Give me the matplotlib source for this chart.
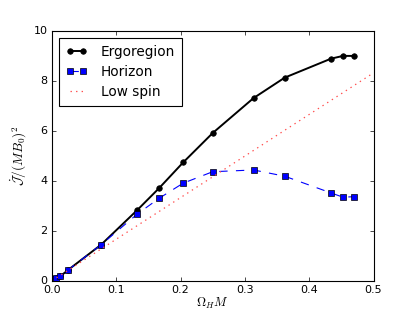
import matplotlib
matplotlib.use("Agg")
import matplotlib.pyplot as plt

plt.style.use("classic")
plt.rcParams["mathtext.fontset"] = "cm"
plt.rcParams["font.family"] = ["DejaVu Sans"]

omega = [0.0025, 0.006, 0.013, 0.025, 0.0767, 0.133, 0.167, 0.204, 0.250, 0.3135, 0.362, 0.434, 0.4526, 0.470]
ergo = [0.07, 0.12, 0.18, 0.43, 1.45, 2.84, 3.72, 4.74, 5.92, 7.32, 8.14, 8.90, 9.01, 9.01]
horizon = [0.07, 0.12, 0.18, 0.43, 1.45, 2.68, 3.31, 3.91, 4.37, 4.44, 4.19, 3.52, 3.35, 3.37]
low_x = [0.0, 0.5]
low_y = [0.0, 8.33]

fig = plt.figure(figsize=(4.15, 3.12), dpi=100)
ax = fig.add_subplot(111)
ax.plot(omega, ergo, "k-", marker="o", markersize=4, linewidth=1.4, label="Ergoregion")
ax.plot(omega, horizon, "b--", marker="s", markersize=4.5, linewidth=0.8, label="Horizon")
ax.plot(low_x, low_y, ":", color=(1.0, 0.3, 0.3), linewidth=0.9, label="Low spin")

ax.set_xlim(0, 0.5)
ax.set_ylim(0, 10)
ax.set_xticks([0.0, 0.1, 0.2, 0.3, 0.4, 0.5])
ax.set_yticks([0, 2, 4, 6, 8, 10])
ax.tick_params(labelsize=8, length=3, pad=3)
ax.set_xlabel(r"$\Omega_H M$", fontsize=9, labelpad=1)
ax.set_ylabel(r"$\dot{\mathcal{J}}/(MB_0)^2$", fontsize=9.5, labelpad=4)
for s in ax.spines.values():
    s.set_linewidth(0.8)
leg = ax.legend(loc="upper left", fontsize=9.8, numpoints=2, handlelength=1.6,
                borderpad=0.5, labelspacing=0.45, handletextpad=1.0)
leg.get_frame().set_linewidth(0.8)

fig.subplots_adjust(left=0.125, right=0.9, bottom=0.1, top=0.9)
fig.savefig("out.png", dpi=100)
